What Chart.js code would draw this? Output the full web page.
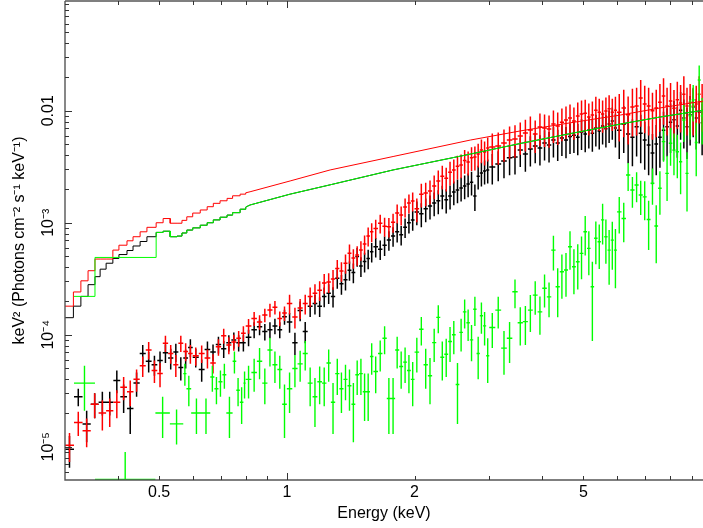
<!DOCTYPE html>
<html>
<head>
<meta charset="utf-8">
<script src="https://cdn.jsdelivr.net/npm/chart.js@4.4.1/dist/chart.umd.min.js"></script>
<style>
  html, body { margin: 0; padding: 0; background: #fff; overflow: hidden; }
  #wrap { width: 703px; height: 528px; }
</style>
</head>
<body>
<div id="wrap"><canvas id="chart" width="703" height="528"></canvas></div>
<script>
// axis ranges
const X_MIN = 0.3, X_MAX = 9.57;
const Y_MIN = 5.05e-6, Y_MAX = 0.0954;

// tick positions and labels
const xTickValues = [0.4, 0.5, 0.6, 0.7, 0.8, 0.9, 1, 2, 3, 4, 5, 6, 7, 8, 9];
const xLabelValues = [0.5, 1, 2, 5];
const xLabels = ['0.5', '1', '2', '5'];
const xLongTicks = [1];
const yTickValues = [6e-6, 7e-6, 8e-6, 9e-6,
  1e-5, 2e-5, 3e-5, 4e-5, 5e-5, 6e-5, 7e-5, 8e-5, 9e-5,
  1e-4, 2e-4, 3e-4, 4e-4, 5e-4, 6e-4, 7e-4, 8e-4, 9e-4,
  1e-3, 2e-3, 3e-3, 4e-3, 5e-3, 6e-3, 7e-3, 8e-3, 9e-3,
  0.01, 0.02, 0.03, 0.04, 0.05, 0.06, 0.07, 0.08, 0.09];
const yLabelValues = [1e-5, 1e-4, 1e-3, 0.01];
const yLabels = ['10\u207B\u2075', '10\u207B\u2074', '10\u207B\u00B3', '0.01'];

// energy bin edges (keV) shared by the black and red spectra
const binEdges = [0.300, 0.315, 0.330, 0.345, 0.360, 0.375, 0.390, 0.405, 0.420, 0.435,
  0.450, 0.465, 0.480, 0.495, 0.510, 0.525, 0.540, 0.555, 0.570, 0.585, 0.600,
  0.62, 0.64, 0.66, 0.68, 0.70, 0.72, 0.74, 0.76, 0.78, 0.80,
  0.825, 0.85, 0.875, 0.90, 0.925, 0.95, 0.975, 1.00,
  1.03, 1.06, 1.09, 1.12, 1.15, 1.18, 1.21, 1.24, 1.27, 1.30,
  1.33, 1.36, 1.39, 1.42, 1.45, 1.48, 1.51, 1.54, 1.57, 1.60,
  1.64, 1.68, 1.72, 1.76, 1.80, 1.84, 1.88, 1.92, 1.96, 2.00,
  2.05, 2.10, 2.15, 2.20, 2.25, 2.30, 2.35, 2.40, 2.45, 2.50,
  2.55, 2.60, 2.65, 2.70, 2.75, 2.80, 2.85, 2.90, 2.95, 3.00,
  3.1, 3.2, 3.3, 3.4, 3.5, 3.6, 3.7, 3.8, 3.9, 4.0,
  4.1, 4.2, 4.3, 4.4, 4.5, 4.6, 4.7, 4.8, 4.9, 5.0,
  5.1, 5.2, 5.3, 5.4, 5.5, 5.6, 5.7, 5.8, 5.9, 6.0,
  6.15, 6.3, 6.45, 6.6, 6.75, 6.9, 7.05, 7.2, 7.35, 7.5,
  7.65, 7.8, 7.95, 8.1, 8.25, 8.4, 8.55, 8.7, 8.85, 9.0,
  9.15, 9.3, 9.45, 9.6];

const blackY = [9.5e-6, 2.8e-5, 1.6e-5, 2.4e-5, 2.5e-5, 2.5e-5, 3.9e-5, 2.8e-5, 2.2e-5, 3.7e-5,
  6.8e-5, 5.8e-5, 5.4e-5, 5.9e-5, 6.9e-5, 6.2e-5, 7.0e-5, 5.1e-5, 6.2e-5, 7.7e-5,
  6.3e-5, 4.9e-5, 7.4e-5, 7.0e-5, 8.2e-5, 7.5e-5, 8.5e-5, 9.0e-5, 8.5e-5, 8.5e-5,
  9.5e-5, 1.11e-4, 1.18e-4, 1.07e-4, 1.11e-4, 1.2e-4, 1.11e-4, 1.45e-4, 1.3e-4, 8.5e-5,
  1.65e-4, 1.07e-4, 1.8e-4, 1.9e-4, 1.8e-4, 2.2e-4, 2.35e-4, 2.2e-4, 3.2e-4, 2.85e-4,
  3.1e-4, 3.77e-4, 3.6e-4, 5.0e-4, 4.1e-4, 4.5e-4, 4.8e-4, 5.5e-4, 6.1e-4, 5.8e-4,
  6.3e-4, 7.0e-4, 7.6e-4, 8.3e-4, 7.8e-4, 9.1e-4, 1.0e-3, 1.06e-3, 1.25e-3, 1.2e-3,
  1.33e-3, 1.41e-3, 1.5e-3, 1.57e-3, 1.73e-3, 1.6e-3, 1.73e-3, 1.88e-3, 1.96e-3, 2.04e-3,
  2.13e-3, 2.22e-3, 2.3e-3, 1.73e-3, 2.6e-3, 2.78e-3, 2.9e-3, 2.95e-3, 3.15e-3, 3.35e-3,
  3.56e-3, 3.8e-3, 3.86e-3, 4.45e-3, 4.1e-3, 4.55e-3, 4.85e-3, 4.65e-3, 5.15e-3, 4.95e-3,
  5.47e-3, 5.15e-3, 5.7e-3, 5.47e-3, 5.9e-3, 6.05e-3, 5.8e-3, 6.45e-3, 6.2e-3, 6.7e-3,
  6.3e-3, 7.0e-3, 6.6e-3, 7.3e-3, 6.9e-3, 7.6e-3, 8.1e-3, 7.0e-3, 6.7e-3, 7.6e-3,
  6.2e-3, 5.8e-3, 7.2e-3, 6.3e-3, 5.47e-3, 4.95e-3, 4.2e-3, 5.05e-3, 5.8e-3, 6.7e-3,
  7.2e-3, 7.9e-3, 8.3e-3, 7.3e-3, 1.01e-2, 8.6e-3, 7.2e-3, 9.2e-3, 1.08e-2, 8.6e-3,
  9.7e-3, 7.8e-3];
const blackErr = [3e-6, 5e-6, 5e-6, 6e-6, 6e-6, 6e-6, 9e-6, 8e-6, 9e-6, 9e-6,
  1.3e-5, 1.2e-5, 1.1e-5, 1.2e-5, 1.3e-5, 1.3e-5, 1.3e-5, 1.2e-5, 1.2e-5, 1.4e-5,
  1.2e-5, 1.1e-5, 1.3e-5, 1.2e-5, 1.4e-5, 1.3e-5, 1.4e-5, 1.5e-5, 1.4e-5, 1.4e-5,
  1.6e-5, 1.8e-5, 1.9e-5, 1.8e-5, 1.8e-5, 1.9e-5, 1.8e-5, 2.2e-5, 2.6e-5, 1.9e-5,
  3.3e-5, 2.3e-5, 3.6e-5, 3.8e-5, 3.6e-5, 4.4e-5, 4.7e-5, 4.5e-5, 6.2e-5, 5.7e-5,
  6.2e-5, 7.4e-5, 7.2e-5, 9.5e-5, 8.2e-5, 9.0e-5, 9.5e-5, 1.08e-4, 1.2e-4, 1.15e-4,
  1.25e-4, 1.38e-4, 1.5e-4, 1.65e-4, 1.55e-4, 1.8e-4, 2.0e-4, 2.1e-4, 3.0e-4, 2.9e-4,
  3.2e-4, 3.4e-4, 3.6e-4, 3.8e-4, 4.1e-4, 3.9e-4, 4.2e-4, 4.5e-4, 4.7e-4, 4.9e-4,
  5.1e-4, 5.3e-4, 5.5e-4, 4.6e-4, 6.2e-4, 6.7e-4, 7.0e-4, 7.1e-4, 9.5e-4, 1.0e-3,
  1.07e-3, 1.14e-3, 1.16e-3, 1.3e-3, 1.25e-3, 1.37e-3, 1.45e-3, 1.4e-3, 1.55e-3, 1.5e-3,
  1.65e-3, 1.6e-3, 1.75e-3, 1.7e-3, 1.8e-3, 1.85e-3, 1.8e-3, 2.0e-3, 1.95e-3, 2.1e-3,
  2.0e-3, 2.2e-3, 2.1e-3, 2.3e-3, 2.2e-3, 2.45e-3, 2.6e-3, 2.3e-3, 3.0e-3, 3.4e-3,
  2.8e-3, 2.6e-3, 3.3e-3, 2.9e-3, 2.5e-3, 2.3e-3, 2.0e-3, 2.4e-3, 2.7e-3, 3.1e-3,
  3.3e-3, 3.7e-3, 3.9e-3, 3.5e-3, 4.6e-3, 4.0e-3, 3.5e-3, 4.3e-3, 5.0e-3, 4.1e-3,
  4.6e-3, 3.8e-3];

const redY = [1.03e-5, 1.65e-5, 1.39e-5, 2.4e-5, 2.0e-5, 2.1e-5, 2.5e-5, 3.4e-5, 3.1e-5, 4.0e-5,
  5.3e-5, 7.3e-5, 4.8e-5, 4.5e-5, 8.4e-5, 6.8e-5, 5.4e-5, 8.4e-5, 7.1e-5, 6.8e-5,
  6.5e-5, 6.8e-5, 6.2e-5, 5.6e-5, 7.8e-5, 9.8e-5, 8.1e-5, 8.6e-5, 9.3e-5, 1.03e-4,
  1.2e-4, 1.4e-4, 1.3e-4, 1.5e-4, 1.66e-4, 1.76e-4, 1.4e-4, 1.56e-4, 1.9e-4, 1.44e-4,
  1.73e-4, 1.9e-4, 2.2e-4, 2.35e-4, 2.5e-4, 2.9e-4, 2.95e-4, 3.15e-4, 3.9e-4, 3.7e-4,
  4.35e-4, 5.35e-4, 4.85e-4, 5.15e-4, 5.7e-4, 6.45e-4, 7.6e-4, 8.3e-4, 8.9e-4, 9.9e-4,
  9.3e-4, 9.2e-4, 1.01e-3, 1.22e-3, 1.17e-3, 1.38e-3, 1.5e-3, 1.56e-3, 1.33e-3, 1.8e-3,
  1.84e-3, 1.92e-3, 2.13e-3, 2.36e-3, 2.6e-3, 2.5e-3, 2.83e-3, 2.95e-3, 3.2e-3, 3.28e-3,
  3.6e-3, 3.48e-3, 3.8e-3, 3.86e-3, 4.1e-3, 4.46e-3, 4.28e-3, 4.65e-3, 4.75e-3, 4.85e-3,
  5.15e-3, 5.47e-3, 5.6e-3, 5.94e-3, 6.32e-3, 6.73e-3, 6.2e-3, 7.15e-3, 7.0e-3, 6.87e-3,
  7.6e-3, 7.3e-3, 7.9e-3, 8.26e-3, 8.6e-3, 8.1e-3, 8.97e-3, 9.35e-3, 9.5e-3, 8.8e-3,
  9.15e-3, 1.01e-2, 9.7e-3, 9.35e-3, 9.95e-3, 1.04e-2, 9.7e-3, 1.01e-2, 9.7e-3, 1.06e-2,
  9.2e-3, 1.08e-2, 1.1e-2, 1.3e-2, 1.15e-2, 1.1e-2, 1.0e-2, 1.06e-2, 1.19e-2, 1.35e-2,
  1.1e-2, 1.22e-2, 1.05e-2, 1.25e-2, 1.17e-2, 1.4e-2, 1.1e-2, 1.19e-2, 1.1e-2, 1.15e-2,
  1.4e-2, 1.19e-2];
const redErr = [3e-6, 4e-6, 4e-6, 6e-6, 6e-6, 6e-6, 7e-6, 8e-6, 8e-6, 9e-6,
  1.1e-5, 1.3e-5, 1.1e-5, 1.1e-5, 1.4e-5, 1.3e-5, 1.2e-5, 1.4e-5, 1.3e-5, 1.3e-5,
  1.2e-5, 1.2e-5, 1.2e-5, 1.1e-5, 1.3e-5, 1.5e-5, 1.4e-5, 1.4e-5, 1.5e-5, 1.6e-5,
  1.8e-5, 2.0e-5, 1.9e-5, 2.1e-5, 2.3e-5, 2.4e-5, 2.1e-5, 2.3e-5, 3.8e-5, 3.0e-5,
  3.5e-5, 3.8e-5, 4.4e-5, 4.7e-5, 5.0e-5, 5.8e-5, 5.9e-5, 6.3e-5, 7.6e-5, 7.3e-5,
  8.5e-5, 1.05e-4, 9.6e-5, 1.02e-4, 1.12e-4, 1.26e-4, 1.48e-4, 1.6e-4, 1.72e-4, 1.9e-4,
  1.8e-4, 1.8e-4, 1.95e-4, 2.35e-4, 2.25e-4, 2.65e-4, 2.9e-4, 3.0e-4, 3.2e-4, 4.3e-4,
  4.4e-4, 4.6e-4, 5.1e-4, 5.7e-4, 6.2e-4, 6.0e-4, 6.8e-4, 7.1e-4, 7.7e-4, 7.9e-4,
  8.6e-4, 8.4e-4, 9.1e-4, 9.3e-4, 9.8e-4, 1.07e-3, 1.03e-3, 1.12e-3, 1.5e-3, 1.55e-3,
  1.65e-3, 1.75e-3, 1.8e-3, 1.9e-3, 2.0e-3, 2.15e-3, 2.0e-3, 2.3e-3, 2.25e-3, 2.2e-3,
  2.45e-3, 2.35e-3, 2.55e-3, 2.65e-3, 2.75e-3, 2.6e-3, 2.9e-3, 3.0e-3, 3.05e-3, 2.8e-3,
  2.95e-3, 3.25e-3, 3.1e-3, 3.0e-3, 3.2e-3, 3.35e-3, 3.1e-3, 3.25e-3, 4.4e-3, 4.8e-3,
  4.2e-3, 4.9e-3, 5.0e-3, 5.8e-3, 5.2e-3, 5.0e-3, 4.5e-3, 4.8e-3, 5.4e-3, 6.0e-3,
  5.0e-3, 5.5e-3, 4.8e-3, 5.6e-3, 5.3e-3, 6.3e-3, 5.0e-3, 5.4e-3, 5.0e-3, 5.2e-3,
  6.3e-3, 5.4e-3];

// green spectrum: wide bins below 0.8 keV, then the shared grid
const greenLowEdges = [0.315, 0.353, 0.49, 0.53, 0.57, 0.58, 0.595, 0.63, 0.66, 0.675,
  0.69, 0.705, 0.72, 0.745, 0.76, 0.775, 0.79, 0.80];
const greenY = [3.7e-5, 2e-6, 2.0e-5, 1.6e-5, 4.5e-5, 3.3e-5, 2.0e-5, 2.0e-5, 4.2e-5, 3.3e-5,
  3.8e-5, 4.4e-5, 2.0e-5, 5.8e-5, 3.2e-5, 2.5e-5, 3.7e-5,
  4.0e-5, 4.6e-5, 5.8e-5, 3.7e-5, 7.3e-5, 5.4e-5, 4.9e-5, 2.4e-5, 3.3e-5, 5.0e-5,
  5.5e-5, 6.8e-5, 3.7e-5, 2.8e-5, 3.8e-5, 3.7e-5, 5.6e-5, 2.5e-5, 4.5e-5, 3.3e-5,
  4.0e-5, 3.5e-5, 2.4e-5, 4.4e-5, 4.5e-5, 3.1e-5, 3.1e-5, 6.4e-5, 4.7e-5, 6.8e-5,
  9.3e-5, 2.7e-5, 2.7e-5, 7.3e-5, 5.2e-5, 5.7e-5, 4.8e-5, 4.0e-5, 7.0e-5, 1.12e-4,
  5.4e-5, 4.3e-5, 8.5e-5, 1.43e-4, 6.3e-5, 6.7e-5, 8.7e-5, 1.0e-4, 3.6e-5, 1.05e-4,
  1.6e-4, 1.28e-4, 9.0e-5, 1.69e-4, 6.8e-5, 1.48e-4, 1.2e-4, 6.5e-5, 1.16e-4, 1.66e-4,
  7.6e-5, 9.3e-5, 2.42e-4, 1.28e-4, 1.31e-4, 1.66e-4, 2.26e-4, 1.6e-4, 2.6e-4, 2.18e-4,
  5.7e-4, 2.68e-4, 3.65e-4, 3.78e-4, 6.1e-4, 4.05e-4, 4.49e-4, 5.33e-4, 8.31e-4, 5.9e-4,
  2.68e-4, 7.26e-4, 6.76e-4, 1.06e-3, 7.5e-4, 5.7e-4, 7.0e-4, 5.7e-4, 1.25e-3, 1.09e-3,
  2.67e-3, 1.96e-3, 2.17e-3, 1.77e-3, 1.7e-3, 1.07e-3, 2.25e-3, 9.35e-4, 2.03e-3, 5.3e-3,
  2.76e-3, 5.12e-3, 4.45e-3, 4.3e-3, 3.5e-3, 8.26e-3, 2.76e-3, 9.0e-3, 1.25e-2, 5.2e-3,
  1.88e-2, 9.0e-3];
const greenErr = [1.6e-5, 7e-6, 8e-6, 5.5e-6, 1.0e-5, 1.0e-5, 7e-6, 7e-6, 1.1e-5, 9e-6,
  1.0e-5, 1.1e-5, 8e-6, 1.3e-5, 9e-6, 9e-6, 1.0e-5,
  1.3e-5, 1.5e-5, 1.8e-5, 1.3e-5, 2.1e-5, 1.7e-5, 1.6e-5, 1.2e-5, 1.3e-5, 1.6e-5,
  1.7e-5, 2.0e-5, 1.4e-5, 1.3e-5, 1.4e-5, 1.4e-5, 1.8e-5, 1.2e-5, 1.6e-5, 1.3e-5,
  1.4e-5, 1.4e-5, 1.3e-5, 1.5e-5, 1.6e-5, 1.4e-5, 1.4e-5, 2.0e-5, 1.7e-5, 2.1e-5,
  2.6e-5, 1.4e-5, 1.4e-5, 2.3e-5, 1.9e-5, 2.0e-5, 1.8e-5, 1.7e-5, 2.4e-5, 3.2e-5,
  2.1e-5, 1.9e-5, 2.8e-5, 4.0e-5, 2.4e-5, 2.5e-5, 3.0e-5, 3.3e-5, 2.0e-5, 3.4e-5,
  4.6e-5, 4.0e-5, 3.2e-5, 4.9e-5, 2.8e-5, 4.6e-5, 4.0e-5, 2.8e-5, 4.0e-5, 5.2e-5,
  3.2e-5, 3.7e-5, 7.0e-5, 4.8e-5, 5.0e-5, 6.0e-5, 7.5e-5, 6.0e-5, 8.5e-5, 7.5e-5,
  1.95e-4, 1.25e-4, 1.55e-4, 1.6e-4, 2.3e-4, 1.75e-4, 1.95e-4, 2.2e-4, 3.2e-4, 2.5e-4,
  1.8e-4, 3.0e-4, 2.9e-4, 4.2e-4, 3.2e-4, 2.9e-4, 3.2e-4, 3.1e-4, 4.5e-4, 4.2e-4,
  7.5e-4, 6.0e-4, 6.5e-4, 6.0e-4, 6.5e-4, 5.0e-4, 8.0e-4, 5.0e-4, 8.5e-4, 1.8e-3,
  1.2e-3, 1.9e-3, 1.8e-3, 1.8e-3, 1.7e-3, 3.0e-3, 1.5e-3, 3.5e-3, 4.5e-3, 2.6e-3,
  6.5e-3, 4.0e-3];

// folded models: stepped bins at low energy, then a smooth run
const modelStepEdges = [0.300, 0.314, 0.327, 0.340, 0.353, 0.363, 0.375, 0.389, 0.402, 0.420,
  0.434, 0.451, 0.468, 0.492, 0.511, 0.531, 0.551, 0.566, 0.581, 0.600,
  0.625, 0.649, 0.671, 0.696, 0.723, 0.745, 0.776, 0.80];
const blackModelStep = [1.42e-4, 1.8e-4, 2.2e-4, 2.8e-4, 3.3e-4, 3.85e-4, 4.35e-4, 4.8e-4, 5.2e-4, 5.65e-4,
  6.2e-4, 6.8e-4, 7.5e-4, 8.2e-4, 8.4e-4, 7.5e-4, 7.6e-4, 8.1e-4, 8.6e-4, 9.0e-4,
  9.5e-4, 1.0e-3, 1.06e-3, 1.12e-3, 1.17e-3, 1.23e-3, 1.32e-3];
const redModelStep = [1.8e-4, 2.41e-4, 3.03e-4, 3.73e-4, 4.74e-4, 4.74e-4, 4.74e-4, 5.7e-4, 6.3e-4, 6.9e-4,
  7.5e-4, 8.3e-4, 9.1e-4, 1.0e-3, 1.09e-3, 9.9e-4, 9.9e-4, 1.05e-3, 1.13e-3, 1.22e-3,
  1.30e-3, 1.39e-3, 1.49e-3, 1.57e-3, 1.65e-3, 1.74e-3, 1.8e-3];
const greenModelLowEdges = [0.315, 0.353];
const greenModelLow = [2.2e-4, 4.9e-4];
const modelLineE = [0.80, 0.819, 1.018, 1.265, 1.78, 2.706, 3.551, 4.659, 6.113, 7.597, 9.6];
const blackModelLine = [1.38e-3, 1.44e-3, 1.80e-3, 2.18e-3, 2.96e-3, 4.1e-3, 5.1e-3, 6.25e-3, 7.6e-3, 8.8e-3, 1.01e-2];
const redModelLine = [1.85e-3, 1.89e-3, 2.36e-3, 2.96e-3, 3.9e-3, 5.47e-3, 6.6e-3, 7.8e-3, 9.15e-3, 1.06e-2, 1.22e-2];

const greenEdges = greenLowEdges.concat(binEdges.slice(31));
const greenModelEdges = greenModelLowEdges.concat(modelStepEdges.slice(13));
const greenModelStep = greenModelLow.concat(blackModelStep.slice(13));

// each bin becomes a horizontal bar plus a vertical error bar, split by gaps
function crosses(edges, vals, errs) {
  const pts = [];
  vals.forEach((v, i) => {
    const lo = edges[i], hi = edges[i + 1];
    const xc = Math.sqrt(lo * hi);
    const yh = Math.max(v, Y_MIN * 1.01);
    pts.push({x: lo, y: yh}, {x: hi, y: yh}, {x: xc, y: null});
    pts.push({x: xc, y: Math.max(v - errs[i], Y_MIN / 100)}, {x: xc, y: v + errs[i]}, {x: xc, y: null});
  });
  return pts;
}

function modelLine(edges, vals, lineE, lineV) {
  const pts = [];
  vals.forEach((v, i) => pts.push({x: edges[i], y: v}, {x: edges[i + 1], y: v}));
  if (lineE) lineE.forEach((e, i) => pts.push({x: e, y: lineV[i]}));
  return pts;
}

function series(label, data, color, order, width) {
  return {label, data, borderColor: color, backgroundColor: color, borderWidth: width,
    pointRadius: 0, fill: false, spanGaps: false, tension: 0, order};
}

const FONT = "'Liberation Sans', Arial, Helvetica, sans-serif";
const AXIS_COLOR = '#555';

function findLabel(values, labels, v) {
  const i = values.findIndex(t => Math.abs(t - v) < t * 1e-6);
  return i < 0 ? '' : labels[i];
}

// frame and inward tick marks, placed through the chart's scales
const frame = {
  id: 'frame',
  afterDraw(chart) {
    const {ctx, chartArea: a, scales: {x, y}} = chart;
    ctx.save();
    ctx.strokeStyle = AXIS_COLOR;
    ctx.lineWidth = 1.4;
    ctx.beginPath();
    ctx.moveTo(a.left, a.top);
    ctx.lineTo(a.left, a.bottom);
    ctx.lineTo(a.right, a.bottom);
    ctx.moveTo(a.left, a.top);
    ctx.lineTo(a.right, a.top);
    ctx.stroke();
    ctx.lineWidth = 1;
    ctx.strokeStyle = '#333';
    ctx.beginPath();
    xTickValues.forEach(v => {
      const px = Math.round(x.getPixelForValue(v)) + 0.5;
      const len = xLongTicks.includes(v) ? 7 : 4;
      ctx.moveTo(px, a.bottom);
      ctx.lineTo(px, a.bottom - len);
      ctx.moveTo(px, a.top);
      ctx.lineTo(px, a.top + len);
    });
    yTickValues.forEach(v => {
      const py = Math.round(y.getPixelForValue(v)) + 0.5;
      const len = yLabelValues.some(t => Math.abs(t - v) < t * 1e-6) ? 7 : 4;
      ctx.moveTo(a.left, py);
      ctx.lineTo(a.left + len, py);
    });
    ctx.stroke();
    ctx.restore();
  }
};

new Chart(document.getElementById('chart'), {
  type: 'line',
  data: {
    datasets: [
      series('black data', crosses(binEdges, blackY, blackErr), '#000000', 5, 1.5),
      series('red data', crosses(binEdges, redY, redErr), '#ff0000', 4, 1.5),
      series('green data', crosses(greenEdges, greenY, greenErr), '#00ff00', 3, 1.4),
      series('black model', modelLine(modelStepEdges, blackModelStep, modelLineE, blackModelLine), '#000000', 2, 1),
      series('red model', modelLine(modelStepEdges, redModelStep, modelLineE, redModelLine), '#ff0000', 1, 1),
      series('green model', modelLine(greenModelEdges, greenModelStep, modelLineE, blackModelLine), '#00ff00', 0, 1)
    ]
  },
  options: {
    responsive: false,
    devicePixelRatio: 1,
    animation: false,
    events: [],
    layout: {padding: {top: 1, left: 0, right: 0, bottom: 0}},
    plugins: {legend: {display: false}, tooltip: {enabled: false}},
    scales: {
      x: {
        type: 'logarithmic',
        min: X_MIN, max: X_MAX, bounds: 'data',
        afterBuildTicks: s => { s.ticks = xTickValues.map(v => ({value: v})); },
        afterFit: s => { s.height = 48; s.paddingLeft = 0; s.paddingRight = 0; },
        grid: {display: false, drawTicks: false},
        border: {display: false},
        ticks: {
          autoSkip: false, maxRotation: 0, padding: 3, color: '#000',
          font: {family: FONT, size: 16},
          callback: v => findLabel(xLabelValues, xLabels, v)
        },
        title: {display: true, text: 'Energy (keV)', color: '#000',
          font: {family: FONT, size: 16}, padding: {top: 0, bottom: 5}}
      },
      y: {
        type: 'logarithmic',
        min: Y_MIN, max: Y_MAX, bounds: 'data',
        afterBuildTicks: s => { s.ticks = yTickValues.map(v => ({value: v})); },
        afterFit: s => { s.width = 65; s.paddingTop = 0; s.paddingBottom = 0; },
        grid: {display: false, drawTicks: false},
        border: {display: false},
        ticks: {
          autoSkip: false, minRotation: 90, maxRotation: 90, crossAlign: 'center',
          padding: 1, color: '#000', font: {family: FONT, size: 16},
          callback: v => findLabel(yLabelValues, yLabels, v)
        },
        title: {display: true, text: 'keV\u00B2 (Photons cm\u207B\u00B2 s\u207B\u00B9 keV\u207B\u00B9)', color: '#000',
          font: {family: FONT, size: 16}, padding: {top: 10, bottom: 0}}
      }
    }
  },
  plugins: [frame]
});
</script>
</body>
</html>
